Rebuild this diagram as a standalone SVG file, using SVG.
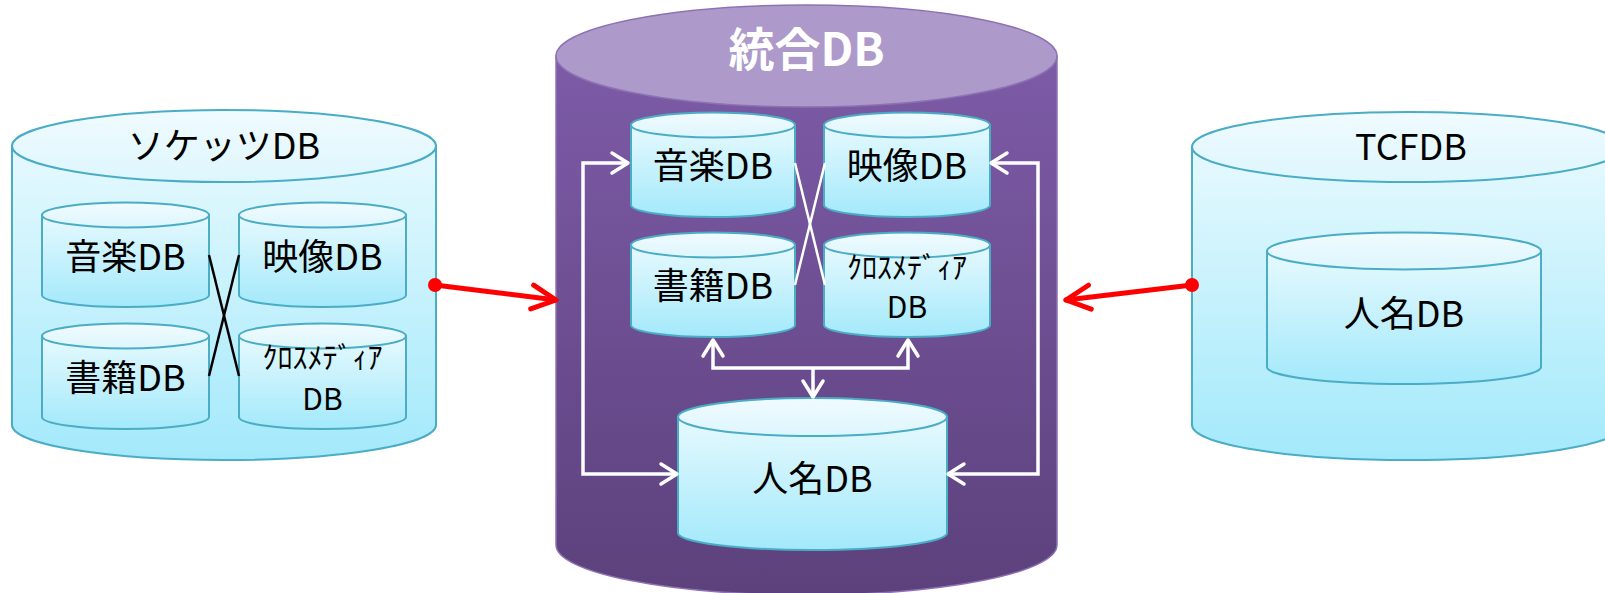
<svg xmlns="http://www.w3.org/2000/svg" width="1605" height="593" viewBox="0 0 1605 593">
<defs>
<linearGradient id="cyBody" x1="0" y1="0" x2="0" y2="1">
<stop offset="0" stop-color="#E6F9FE"/>
<stop offset="1" stop-color="#A3E9FB"/>
</linearGradient>
<linearGradient id="cyTop" x1="0" y1="0" x2="0" y2="1">
<stop offset="0" stop-color="#F0FBFF"/>
<stop offset="1" stop-color="#DDF6FD"/>
</linearGradient>
<linearGradient id="puBody" x1="0" y1="0" x2="0" y2="1">
<stop offset="0" stop-color="#7D5BA7"/>
<stop offset="1" stop-color="#5C417C"/>
</linearGradient>
<marker id="wArr" markerUnits="userSpaceOnUse" viewBox="-20 -12 24 24" markerWidth="24" markerHeight="24" refX="0" refY="0" orient="auto-start-reverse" overflow="visible">
<path d="M-16,-10 L0,0 L-16,10" fill="none" stroke="#FFFFFF" stroke-width="3.5" stroke-linecap="round" stroke-linejoin="round"/>
</marker>
<marker id="rArr" markerUnits="userSpaceOnUse" viewBox="-30 -15 34 30" markerWidth="34" markerHeight="30" refX="0" refY="0" orient="auto" overflow="visible">
<path d="M-24,-12 L0,0 L-24,12" fill="none" stroke="#FF0000" stroke-width="5" stroke-linecap="round" stroke-linejoin="round"/>
</marker>
</defs>
<style>
.cb{fill:url(#cyBody);stroke:#4BACC6;stroke-width:2}
.ct{fill:url(#cyTop);stroke:#4BACC6;stroke-width:2}
.pb{fill:url(#puBody);stroke:#8D72B3;stroke-width:1.5}
.pt{fill:#AD99CA;stroke:#8D72B3;stroke-width:1.5}
.t{font-family:"Noto Sans CJK JP","Noto Sans",sans-serif;fill:#000;text-anchor:middle}
.t36{font-size:36px}
.t32{font-size:30px}
.ttl{font-family:"Noto Sans CJK JP","Noto Sans",sans-serif;font-size:46px;font-weight:bold;fill:#FFFFFF;text-anchor:middle}
.wl{fill:none;stroke:#FFFFFF;stroke-width:3.5}
.xl{fill:none;stroke:#000;stroke-width:2.5}
.xw{fill:none;stroke:#FFFFFF;stroke-width:2.5}
.rl{fill:none;stroke:#FF0000;stroke-width:5;stroke-linecap:round}
</style>

<!-- Left: ソケッツDB -->
<g id="socketsDB">
<path class="cb" d="M12,146 V425 A212,35 0 0 0 436,425 V146 Z"/>
<ellipse class="ct" cx="224" cy="146" rx="212" ry="36"/>
<text class="t t36" x="224" y="159">ソケッツDB</text>
</g>
<g id="s-music">
<path class="cb" d="M42,215 V295 A83.5,12 0 0 0 209,295 V215 Z"/>
<ellipse class="ct" cx="125.5" cy="215" rx="83.5" ry="12.5"/>
<text class="t t36" x="125.5" y="270">音楽DB</text>
</g>
<g id="s-video">
<path class="cb" d="M239,215 V295 A83.5,12 0 0 0 406,295 V215 Z"/>
<ellipse class="ct" cx="322.5" cy="215" rx="83.5" ry="12.5"/>
<text class="t t36" x="322.5" y="270">映像DB</text>
</g>
<g id="s-book">
<path class="cb" d="M42,336 V417 A83.5,12 0 0 0 209,417 V336 Z"/>
<ellipse class="ct" cx="125.5" cy="336" rx="83.5" ry="12.5"/>
<text class="t t36" x="125.5" y="391">書籍DB</text>
</g>
<g id="s-cross">
<path class="cb" d="M239,336 V417 A83.5,12 0 0 0 406,417 V336 Z"/>
<ellipse class="ct" cx="322.5" cy="336" rx="83.5" ry="12.5"/>
<text class="t t32" x="322.5" y="368"><tspan x="322.5" y="368">ｸﾛｽﾒﾃﾞｨｱ</tspan><tspan x="322.5" y="410">DB</tspan></text>
</g>

<!-- Center: 統合DB -->
<g id="integratedDB">
<path class="pb" d="M556,56 V545 A250.5,50 0 0 0 1057,545 V56 Z"/>
<ellipse class="pt" cx="806.5" cy="56" rx="250.5" ry="51"/>
<text class="ttl" x="806.5" y="66">統合DB</text>
</g>
<g id="c-music">
<path class="cb" d="M631,125 V205 A82,12 0 0 0 795,205 V125 Z"/>
<ellipse class="ct" cx="713" cy="125" rx="82" ry="12.5"/>
<text class="t t36" x="713" y="179">音楽DB</text>
</g>
<g id="c-video">
<path class="cb" d="M824,125 V205 A83,12 0 0 0 990,205 V125 Z"/>
<ellipse class="ct" cx="907" cy="125" rx="83" ry="12.5"/>
<text class="t t36" x="907" y="179">映像DB</text>
</g>
<g id="c-book">
<path class="cb" d="M631,245 V325 A82,12 0 0 0 795,325 V245 Z"/>
<ellipse class="ct" cx="713" cy="245" rx="82" ry="12.5"/>
<text class="t t36" x="713" y="299">書籍DB</text>
</g>
<g id="c-cross">
<path class="cb" d="M824,245 V325 A83,12 0 0 0 990,325 V245 Z"/>
<ellipse class="ct" cx="907" cy="245" rx="83" ry="12.5"/>
<text class="t t32" x="907" y="278"><tspan x="907" y="278">ｸﾛｽﾒﾃﾞｨｱ</tspan><tspan x="907" y="318">DB</tspan></text>
</g>
<g id="c-person">
<path class="cb" d="M678,417 V533 A134.5,17 0 0 0 947,533 V417 Z"/>
<ellipse class="ct" cx="812.5" cy="417" rx="134.5" ry="19"/>
<text class="t t36" x="812.5" y="492">人名DB</text>
</g>

<!-- Right: TCFDB -->
<g id="tcfDB">
<path class="cb" d="M1192,147 V425 A216,35 0 0 0 1624,425 V147 Z"/>
<ellipse class="ct" cx="1408" cy="147" rx="216" ry="35"/>
<text class="t t36" x="1411" y="160">TCFDB</text>
</g>
<g id="t-person">
<path class="cb" d="M1267,251 V367 A137,17 0 0 0 1541,367 V251 Z"/>
<ellipse class="ct" cx="1404" cy="251" rx="137" ry="18.5"/>
<text class="t t36" x="1404" y="327">人名DB</text>
</g>

<!-- Connectors -->
<g id="connectors">
<line class="xl" x1="209" y1="255" x2="239" y2="376"/>
<line class="xl" x1="239" y1="255" x2="209" y2="376"/>
<line class="xw" x1="795" y1="163" x2="825" y2="285"/>
<line class="xw" x1="825" y1="163" x2="795" y2="285"/>
<path class="wl" d="M628,163 H583 V474 H677" marker-start="url(#wArr)" marker-end="url(#wArr)"/>
<path class="wl" d="M991,163 H1038 V474 H948" marker-start="url(#wArr)" marker-end="url(#wArr)"/>
<path class="wl" d="M713,340 V368 H908 V340" marker-start="url(#wArr)" marker-end="url(#wArr)"/>
<path class="wl" d="M813,368 V397" marker-end="url(#wArr)"/>
<line class="rl" x1="435" y1="285" x2="556" y2="300" marker-end="url(#rArr)"/>
<circle cx="435" cy="285" r="7" fill="#FF0000"/>
<line class="rl" x1="1192" y1="285" x2="1066" y2="300" marker-end="url(#rArr)"/>
<circle cx="1192" cy="285" r="7" fill="#FF0000"/>
</g>
</svg>
